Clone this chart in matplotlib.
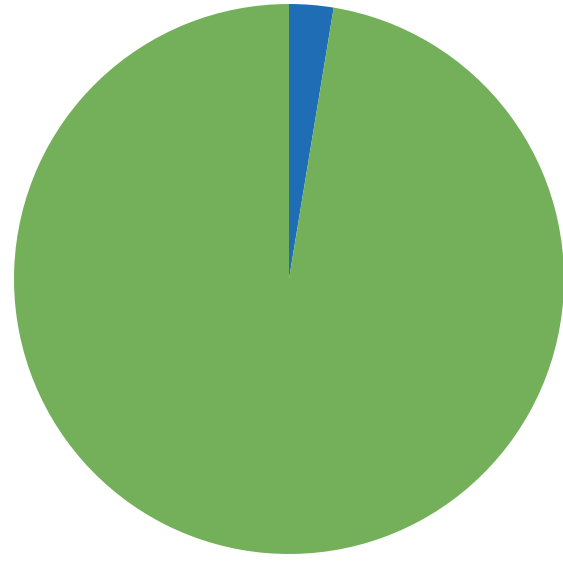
import matplotlib
matplotlib.use("Agg")
import matplotlib.pyplot as plt

# shares (blue sliver vs. the rest)
labels = ["A", "B"]
shares = [2.6, 97.4]
colours = ["#1f6db5", "#74b05a"]

fig = plt.figure(figsize=(5.63, 5.62), dpi=100)
ax = fig.add_axes([14 / 563, 8 / 562, 550 / 563, 550 / 562])
ax.pie(shares, colors=colours, startangle=90, counterclock=False,
       radius=1.0, wedgeprops=dict(linewidth=0))
ax.set_xlim(-1, 1)
ax.set_ylim(-1, 1)
ax.set_aspect("equal")
ax.axis("off")

fig.savefig("out.png", dpi=100, facecolor="white")
